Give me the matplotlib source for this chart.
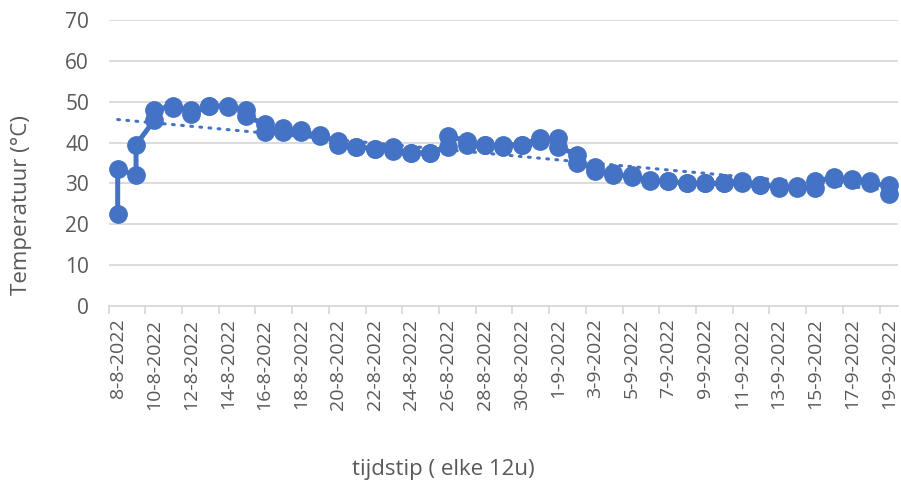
import matplotlib
matplotlib.use('Agg')
import matplotlib.pyplot as plt
import numpy as np

# dates on the axis (one per day, two readings per day)
dates = ['8-8-2022', '9-8-2022', '10-8-2022', '11-8-2022', '12-8-2022', '13-8-2022',
         '14-8-2022', '15-8-2022', '16-8-2022', '17-8-2022', '18-8-2022', '19-8-2022',
         '20-8-2022', '21-8-2022', '22-8-2022', '23-8-2022', '24-8-2022', '25-8-2022',
         '26-8-2022', '27-8-2022', '28-8-2022', '29-8-2022', '30-8-2022', '31-8-2022',
         '1-9-2022', '2-9-2022', '3-9-2022', '4-9-2022', '5-9-2022', '6-9-2022',
         '7-9-2022', '8-9-2022', '9-9-2022', '10-9-2022', '11-9-2022', '12-9-2022',
         '13-9-2022', '14-9-2022', '15-9-2022', '16-9-2022', '17-9-2022', '18-9-2022',
         '19-9-2022']

# temperature readings, every 12h (first and second of each day)
temp_a = [22.5, 32.0, 45.5, 49.0, 48.0, 49.0, 49.0, 48.0, 44.5, 43.5, 43.0, 41.8,
          40.5, 39.0, 38.5, 39.0, 37.5, 37.5, 39.0, 40.5, 39.5, 39.0, 39.5, 41.0,
          41.0, 37.0, 34.0, 32.5, 32.0, 30.8, 30.5, 30.0, 30.0, 30.0, 30.5, 29.5,
          29.3, 29.3, 29.0, 31.5, 31.0, 30.5, 29.5]
temp_b = [33.5, 39.5, 48.0, 48.5, 47.0, 49.0, 48.8, 46.5, 42.5, 42.5, 42.5, 41.5,
          39.5, 39.0, 38.5, 38.0, 37.5, 37.5, 41.5, 39.5, 39.5, 39.5, 39.5, 40.5,
          39.0, 35.0, 33.0, 32.0, 31.5, 30.5, 30.5, 30.0, 30.0, 30.0, 30.0, 29.5,
          29.0, 29.0, 30.5, 31.0, 30.8, 30.0, 27.5]

blue = '#4472C4'
grey = '#595959'

day = np.arange(len(dates))
x = np.repeat(day, 2)
y = np.ravel(np.column_stack([temp_a, temp_b]))

fig = plt.figure(figsize=(9.01, 4.92), dpi=100)
ax = fig.add_axes([108.5/901, 1-306/492, (898-108.5)/901, (306-20)/492])

ax.plot(x, y, color=blue, lw=3.6, marker='o', ms=12.5, zorder=3)

# linear trendline
t = np.arange(len(y)) / 2.0
p = np.polyfit(t, y, 1)
ax.plot(day, np.polyval(p, day), color=blue, lw=2.2, ls=(0, (0.6, 2.4)),
        dash_capstyle='round', zorder=4)

ax.set_xlim(-0.5, len(dates) - 0.5)
ax.set_ylim(0, 70)
ax.set_yticks(range(0, 71, 10))
ax.yaxis.grid(True, color='#D9D9D9', lw=1.3)
ax.set_axisbelow(True)

ax.set_xticks(day[::2])
ax.set_xticklabels(dates[::2], rotation=90, fontsize=14, color=grey, family='Open Sans')
ax.set_xticks(np.arange(-0.5, len(dates), 2), minor=True)
ax.tick_params(axis='x', which='major', length=0, pad=9)
ax.tick_params(axis='x', which='minor', length=6, color='#D9D9D9', width=1.3)
ax.tick_params(axis='y', length=0, pad=14, labelsize=15, labelcolor=grey)
for lab in ax.get_yticklabels():
    lab.set_family('Open Sans')

for s in ['top', 'right', 'left']:
    ax.spines[s].set_visible(False)
ax.spines['bottom'].set_color('#D9D9D9')
ax.spines['bottom'].set_linewidth(1.3)

fig.text(22/901, 1-205/492, 'Temperatuur (°C)', rotation=90, ha='center', va='center',
         fontsize=16, color=grey, family='Open Sans')
fig.text(443/901, 1-470/492, 'tijdstip ( elke 12u)', ha='center', va='center',
         fontsize=16, color=grey, family='Open Sans')

plt.savefig('out.png', dpi=100)
